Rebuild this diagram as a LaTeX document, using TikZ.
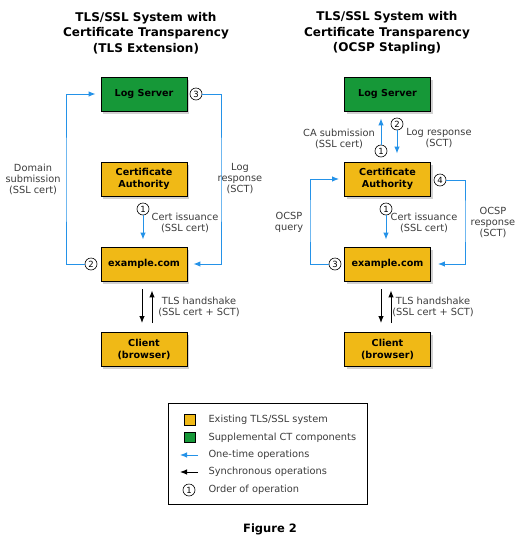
\documentclass[tikz,border=0pt]{standalone}
\usepackage{fontspec}
\setmainfont{DejaVu Sans}
\usetikzlibrary{arrows.meta,shadows,calc}
\definecolor{yelc}{RGB}{240,185,22}
\definecolor{grnc}{RGB}{22,152,56}
\definecolor{bluc}{RGB}{36,146,232}
\definecolor{txtc}{RGB}{60,60,60}
\tikzset{
  box/.style={draw=black, line width=0.9pt, minimum width=86pt, minimum height=34pt, inner sep=0pt,
    font=\bfseries\fontsize{9.6}{12}\selectfont, align=center,
    drop shadow={opacity=0.35, shadow xshift=2pt, shadow yshift=-2.5pt}},
  yel/.style={box, fill=yelc},
  grn/.style={box, fill=grnc},
  num/.style={circle, draw, line width=0.6pt, inner sep=0pt, minimum size=12pt, font=\fontsize{8.5}{9}\selectfont},
  lbl/.style={font=\fontsize{9.8}{11}\selectfont, align=center, text=txtc},
  ttl/.style={font=\bfseries\fontsize{12}{15.5}\selectfont, align=center},
  once/.style={draw=bluc, line width=1pt, -{Latex[length=7pt,width=5.5pt]}},
  sync/.style={draw=black, line width=1pt, -{Latex[length=7pt,width=5.5pt]}}
}
\begin{document}
\begin{tikzpicture}[x=1pt,y=-1pt]
\useasboundingbox[fill=white] (0,0) rectangle (523,547);
% titles
\node[ttl] (t1) at (146,33) {TLS/SSL System with\\Certificate Transparency\\(TLS Extension)};
\node[ttl] (t2) at (387,33) {TLS/SSL System with\\Certificate Transparency\\(OCSP Stapling)};
% left column
\node[grn] (lsL) at (144,94) {Log Server};
\node[yel] (caL) at (144,179) {Certificate\\Authority};
\node[yel] (exL) at (144,264) {example.com};
\node[yel] (clL) at (144,349.5) {Client\\(browser)};
% right column
\node[grn] (lsR) at (387.5,94) {Log Server};
\node[yel] (caR) at (387.5,179) {Certificate\\Authority};
\node[yel] (exR) at (387.5,264) {example.com};
\node[yel] (clR) at (387.5,349.5) {Client\\(browser)};
% order circles
\node[num] (n1L) at (143,209) {1};
\node[num] (n2L) at (91,264) {2};
\node[num] (n3L) at (196,94) {3};
\node[num] (n1Ra) at (381,151) {1};
\node[num] (n2R) at (397,124) {2};
\node[num] (n1Rb) at (386,209) {1};
\node[num] (n3R) at (335,264) {3};
\node[num] (n4R) at (440,180) {4};
% corner coordinates
\coordinate (kL1) at (66,180);
\coordinate (kL2) at (221,180);
\coordinate (kR1) at (310,220);
\coordinate (kR2) at (465,220);
% left connectors
\draw[once, shorten >=5pt] (n2L.west) -| (kL1) |- (lsL.west);
\draw[once, shorten >=6pt] (n3L.east) -| (kL2) |- (exL.east);
\draw[once, shorten >=7pt] (n1L.south) -- (n1L.south |- exL.north);
\draw[sync, shorten <=8pt, shorten >=9pt] ([xshift=-2pt]exL.south) -- ([xshift=-2pt]clL.north);
\draw[sync, shorten <=9pt, shorten >=9pt] ([xshift=8pt]clL.north) -- ([xshift=8pt]exL.south);
% right connectors
\draw[once, shorten >=7pt] (n1Ra.north) -- (n1Ra.north |- lsR.south);
\draw[once, shorten >=8pt] (n2R.south) -- (n2R.south |- caR.north);
\draw[once, shorten >=7pt] (n1Rb.south) -- (n1Rb.south |- exR.north);
\draw[once, shorten >=5pt] (n3R.west) -| (kR1) |- (caR.west);
\draw[once, shorten >=7pt] (n4R.east) -| (kR2) |- (exR.east);
\draw[sync, shorten <=8pt, shorten >=9pt] ([xshift=-6.5pt]exR.south) -- ([xshift=-6.5pt]clR.north);
\draw[sync, shorten <=9pt, shorten >=9pt] ([xshift=3.5pt]clR.north) -- ([xshift=3.5pt]exR.south);
% labels
\node[lbl] (lDom) at (33,179) {Domain\\submission\\(SSL cert)};
\node[lbl] (lLog) at (240,179) {Log\\response\\(SCT)};
\node[lbl] (lCiL) at (185,222.5) {Cert issuance\\(SSL cert)};
\node[lbl] (lTlL) at (199,307) {TLS handshake\\(SSL cert + SCT)};
\node[lbl] (lCaS) at (339,138.5) {CA submission\\(SSL cert)};
\node[lbl] (lLoR) at (439,138.5) {Log response\\(SCT)};
\node[lbl] (lOq) at (289,222.5) {OCSP\\query};
\node[lbl] (lOr) at (493,222.5) {OCSP\\response\\(SCT)};
\node[lbl] (lCiR) at (424,222.5) {Cert issuance\\(SSL cert)};
\node[lbl] (lTlR) at (433,307) {TLS handshake\\(SSL cert + SCT)};
% legend
\node[draw=black, line width=0.8pt, minimum width=199pt, minimum height=101pt, inner sep=0pt] (leg) at (267.5,453.5) {};
\node[draw=black, line width=0.6pt, fill=yelc, minimum size=10.5pt, inner sep=0pt] (sqY) at (190,420) {};
\node[draw=black, line width=0.6pt, fill=grnc, minimum size=10.5pt, inner sep=0pt] (sqG) at (190,437.5) {};
\coordinate (aB1) at (198,455);
\coordinate (aB2) at (180,455);
\coordinate (aK1) at (198,472);
\coordinate (aK2) at (180,472);
\draw[once] (aB1) -- (aB2);
\draw[sync] (aK1) -- (aK2);
\node[num] (nLeg) at (189,490) {1};
\node[lbl, anchor=west] (e1) at (205,420) {Existing TLS/SSL system};
\node[lbl, anchor=west] (e2) at (205,437.5) {Supplemental CT components};
\node[lbl, anchor=west] (e3) at (205,455) {One-time operations};
\node[lbl, anchor=west] (e4) at (205,472) {Synchronous operations};
\node[lbl, anchor=west] (e5) at (205,490) {Order of operation};
\node[font=\bfseries\fontsize{11.5}{12}\selectfont] (fig) at (270,529) {Figure 2};
\end{tikzpicture}
\end{document}
